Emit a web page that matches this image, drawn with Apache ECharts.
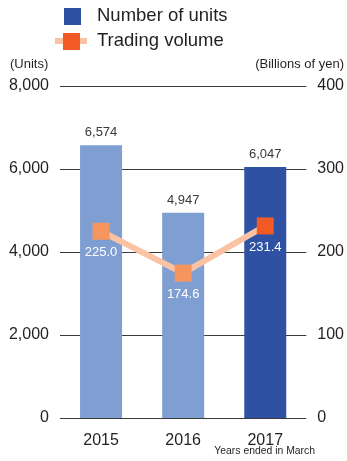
<!DOCTYPE html>
<html>
<head>
<meta charset="utf-8">
<script src="https://cdn.jsdelivr.net/npm/echarts@6/dist/echarts.min.js"></script>
<style>
  html, body { margin: 0; padding: 0; background: #fff; }
  #chart { width: 347px; height: 461px; }
</style>
</head>
<body>
<div id="chart"></div>
<script>
// Fiscal years (ended in March)
const years = ['2015', '2016', '2017'];
// Number of units (left axis)
const units = [6574, 4947, 6047];
// Trading volume, billions of yen (right axis)
const volume = [225.0, 174.6, 231.4];
// Axis ticks
const unitTicks = [0, 2000, 4000, 6000, 8000];
const volumeTicks = [0, 100, 200, 300, 400];

const FONT = '"Liberation Sans", Arial, Helvetica, sans-serif';
const TEXT = '#231f20';
const BAR_LIGHT = '#7f9fd3';
const BAR_DARK = '#2e51a3';
const LINE = '#fbc3a3';
const MARK_LIGHT = '#f6965f';
const MARK_DARK = '#f15a24';

const chart = echarts.init(document.getElementById('chart'));

const fmt = v => v.toLocaleString('en-US');

chart.setOption({
  animation: false,
  textStyle: { fontFamily: FONT },
  grid: { left: 60, right: 40, top: 86, bottom: 43 },
  graphic: [
    // legend
    { type: 'rect', left: 64, top: 8, shape: { width: 17, height: 17 }, style: { fill: BAR_DARK } },
    { type: 'text', left: 97, top: 6, style: { text: 'Number of units', font: '18.5px ' + FONT, fill: TEXT } },
    { type: 'rect', left: 55, top: 38, shape: { width: 32, height: 6 }, style: { fill: LINE } },
    { type: 'rect', left: 63, top: 33, shape: { width: 17, height: 17 }, style: { fill: MARK_DARK } },
    { type: 'text', left: 97, top: 31, style: { text: 'Trading volume', font: '18.5px ' + FONT, fill: TEXT } },
    // axis units
    { type: 'text', left: 10, top: 58, style: { text: '(Units)', font: '13px ' + FONT, fill: TEXT } },
    { type: 'text', right: 3, top: 58, style: { text: '(Billions of yen)', font: '13px ' + FONT, fill: TEXT } },
    { type: 'text', right: 32, top: 446, style: { text: 'Years ended in March', font: '10.4px ' + FONT, fill: TEXT } }
  ],
  xAxis: {
    type: 'category',
    data: years,
    axisLine: { show: false },
    axisTick: { show: false },
    axisLabel: { color: TEXT, fontSize: 16, margin: 15 }
  },
  yAxis: [
    {
      type: 'value', min: unitTicks[0], max: unitTicks[unitTicks.length - 1], interval: 2000,
      axisLine: { show: false }, axisTick: { show: false },
      axisLabel: { color: TEXT, fontSize: 16, margin: 11, formatter: v => fmt(v) },
      splitLine: { lineStyle: { color: '#3a3a3a', width: 1 } }
    },
    {
      type: 'value', min: volumeTicks[0], max: volumeTicks[volumeTicks.length - 1], interval: 100,
      axisLine: { show: false }, axisTick: { show: false },
      axisLabel: { color: TEXT, fontSize: 16, margin: 11 },
      splitLine: { show: false }
    }
  ],
  series: [
    {
      name: 'Number of units',
      type: 'bar',
      yAxisIndex: 0,
      barWidth: 42,
      data: units.map((v, i) => ({
        value: v,
        itemStyle: { color: i === units.length - 1 ? BAR_DARK : BAR_LIGHT }
      })),
      label: {
        show: true, position: 'top', distance: 6,
        color: '#3a3a3a', fontSize: 13,
        formatter: p => fmt(p.value)
      }
    },
    {
      name: 'Trading volume',
      type: 'line',
      yAxisIndex: 1,
      symbol: 'rect',
      symbolSize: 17,
      lineStyle: { color: LINE, width: 6 },
      itemStyle: { color: MARK_DARK },
      data: volume.map((v, i) => ({
        value: v,
        itemStyle: { color: i === volume.length - 1 ? MARK_DARK : MARK_LIGHT }
      })),
      label: {
        show: true, position: 'bottom', distance: 6,
        color: '#ffffff', fontSize: 13,
        formatter: p => p.value.toFixed(1)
      },
      z: 5
    }
  ]
});
</script>
</body>
</html>
